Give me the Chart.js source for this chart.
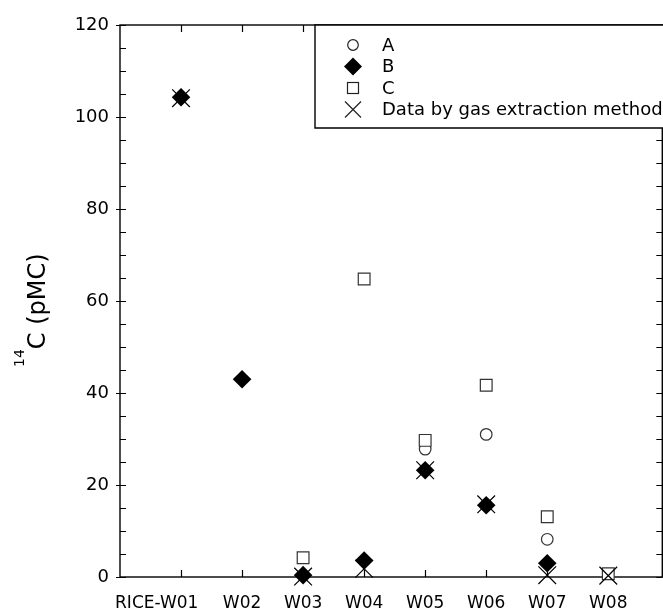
<!DOCTYPE html>
<html>
<head>
<meta charset="utf-8">
<script src="https://cdn.jsdelivr.net/npm/chart.js@4.4.0/dist/chart.umd.min.js"></script>
<style>
  html, body { margin: 0; padding: 0; background: #fff; overflow: hidden; width: 663px; height: 610px; }
  #chart { display: block; }
</style>
</head>
<body>
<!-- canvas is a bit wider than the window: the right edge of the plot is cut like in the source figure -->
<canvas id="chart" width="676" height="610"></canvas>
<script>
// sample names along the x axis
const categories = ['RICE-W01', 'W02', 'W03', 'W04', 'W05', 'W06', 'W07', 'W08'];
// 14C in pMC (null = no visible point)
const seriesA = [null, null, null, null, 27.8, 31.0, 8.2, null];
const seriesB = [104.3, 43.0, 0.4, 3.6, 23.2, 15.6, 3.0, null];
const seriesC = [null, null, 4.2, 64.8, 29.7, 41.7, 13.1, 0.7];
const seriesGas = [104.1, null, 0.1, 1.8, 23.2, 15.8, 0.4, 0.3];
const yTicks = [0, 20, 40, 60, 80, 100, 120];
const legendLabels = ['A', 'B', 'C', 'Data by gas extraction method'];

const FONT = '"DejaVu Sans", sans-serif';

function toPoints(values) {
    return values.map((v, i) => ({ x: i + 1, y: v })).filter(p => p.y !== null);
}

// frame + inward tick marks
const framePlugin = {
    id: 'frame',
    beforeDatasetsDraw(chart) {
        const { ctx, chartArea: a, scales } = chart;
        ctx.save();
        ctx.strokeStyle = '#000';
        ctx.lineWidth = 1.4;
        ctx.strokeRect(a.left, a.top, a.right - a.left, a.bottom - a.top);
        ctx.lineWidth = 1.2;
        ctx.beginPath();
        categories.forEach((c, i) => {
            const x = Math.round(scales.x.getPixelForValue(i + 1)) + 0.5;
            ctx.moveTo(x, a.bottom); ctx.lineTo(x, a.bottom - 7);
            ctx.moveTo(x, a.top); ctx.lineTo(x, a.top + 7);
        });
        for (let v = 0; v <= 120; v += 5) {
            const y = Math.round(scales.y.getPixelForValue(v)) + 0.5;
            const major = v % 20 === 0;
            ctx.moveTo(a.left - (major ? 4 : 0), y); ctx.lineTo(a.left + 6, y);
            ctx.moveTo(a.right, y); ctx.lineTo(a.right - 6, y);
        }
        ctx.stroke();
        ctx.restore();
    }
};

// y title with superscript, and boxed legend
const annotatePlugin = {
    id: 'annotate',
    afterDraw(chart) {
        const { ctx, chartArea: a } = chart;
        ctx.save();
        // y title
        ctx.translate(40, 367);
        ctx.rotate(-Math.PI / 2);
        ctx.fillStyle = '#000';
        ctx.textBaseline = 'alphabetic';
        ctx.textAlign = 'left';
        ctx.font = '14px ' + FONT;
        ctx.fillText('14', 0, -16);
        const w = ctx.measureText('14').width;
        ctx.font = '24px ' + FONT;
        ctx.fillText('C (pMC)', w, 5);
        ctx.restore();

        // legend box
        ctx.save();
        const left = 315, top = a.top, bottom = 128;
        ctx.fillStyle = '#fff';
        ctx.fillRect(left, top, chart.width - left, bottom - top);
        ctx.strokeStyle = '#000';
        ctx.lineWidth = 1.4;
        ctx.beginPath();
        ctx.moveTo(chart.width + 2, bottom);
        ctx.lineTo(left, bottom);
        ctx.lineTo(left, top);
        ctx.lineTo(chart.width + 2, top);
        ctx.stroke();
        const rows = [45, 66.5, 88, 109.5];
        const sx = 353;
        ctx.lineWidth = 1.2;
        ctx.strokeStyle = '#222';
        ctx.fillStyle = '#000';
        // circle
        ctx.beginPath(); ctx.arc(sx, rows[0], 5.3, 0, Math.PI * 2); ctx.stroke();
        // diamond
        ctx.beginPath();
        ctx.moveTo(sx, rows[1] - 9); ctx.lineTo(sx + 9, rows[1]);
        ctx.lineTo(sx, rows[1] + 9); ctx.lineTo(sx - 9, rows[1]);
        ctx.closePath(); ctx.fill();
        // square
        ctx.strokeRect(sx - 5.5, rows[2] - 5.5, 11, 11);
        // cross
        ctx.beginPath();
        ctx.moveTo(sx - 8, rows[3] - 8); ctx.lineTo(sx + 8, rows[3] + 8);
        ctx.moveTo(sx + 8, rows[3] - 8); ctx.lineTo(sx - 8, rows[3] + 8);
        ctx.stroke();
        ctx.font = '18px ' + FONT;
        ctx.textBaseline = 'middle';
        ctx.fillStyle = '#000';
        legendLabels.forEach((t, i) => ctx.fillText(t, 382, rows[i] + 1));
        ctx.restore();
    }
};

const ctx = document.getElementById('chart').getContext('2d');
new Chart(ctx, {
    type: 'scatter',
    data: {
        datasets: [
            {
                label: legendLabels[3], data: toPoints(seriesGas), order: 0, clip: false,
                pointStyle: 'crossRot', pointRadius: 12.5, pointHoverRadius: 12.5,
                pointBorderColor: '#000', pointBackgroundColor: '#000', pointBorderWidth: 1.2
            },
            {
                label: legendLabels[1], data: toPoints(seriesB), order: 1, clip: false,
                pointStyle: 'rectRot', pointRadius: 9.3, pointHoverRadius: 9.3,
                pointBorderColor: '#000', pointBackgroundColor: '#000', pointBorderWidth: 0
            },
            {
                label: legendLabels[2], data: toPoints(seriesC), order: 2, clip: false,
                pointStyle: 'rect', pointRadius: 8.3, pointHoverRadius: 8.3,
                pointBorderColor: '#333', pointBackgroundColor: '#fff', pointBorderWidth: 1.2
            },
            {
                label: legendLabels[0], data: toPoints(seriesA), order: 3, clip: false,
                pointStyle: 'circle', pointRadius: 5.8, pointHoverRadius: 5.8,
                pointBorderColor: '#333', pointBackgroundColor: '#fff', pointBorderWidth: 1.2
            }
        ]
    },
    options: {
        responsive: false,
        devicePixelRatio: 1,
        animation: false,
        events: [],
        layout: { padding: { top: 25, right: 1, left: 0, bottom: 0 } },
        plugins: {
            legend: { display: false },
            tooltip: { enabled: false }
        },
        scales: {
            x: {
                type: 'linear',
                min: 0,
                max: 8.885,
                grid: { display: false, drawTicks: false },
                border: { display: false },
                afterBuildTicks: scale => { scale.ticks = categories.map((c, i) => ({ value: i + 1 })); },
                afterFit: scale => { scale.height = 33; },
                ticks: {
                    autoSkip: false,
                    maxRotation: 0,
                    padding: 16,
                    color: '#000',
                    font: { family: FONT, size: 17 },
                    // the first (long) label sits left of its tick in the original
                    callback: v => v === 1 ? categories[0] + ' '.repeat(9) : categories[v - 1]
                }
            },
            y: {
                min: 0,
                max: 120,
                grid: { display: false, drawTicks: false },
                border: { display: false },
                afterBuildTicks: scale => { scale.ticks = yTicks.map(v => ({ value: v })); },
                afterFit: scale => { scale.width = 120; },
                ticks: {
                    padding: 11,
                    color: '#000',
                    font: { family: FONT, size: 18 }
                }
            }
        }
    },
    plugins: [framePlugin, annotatePlugin]
});
</script>
</body>
</html>
